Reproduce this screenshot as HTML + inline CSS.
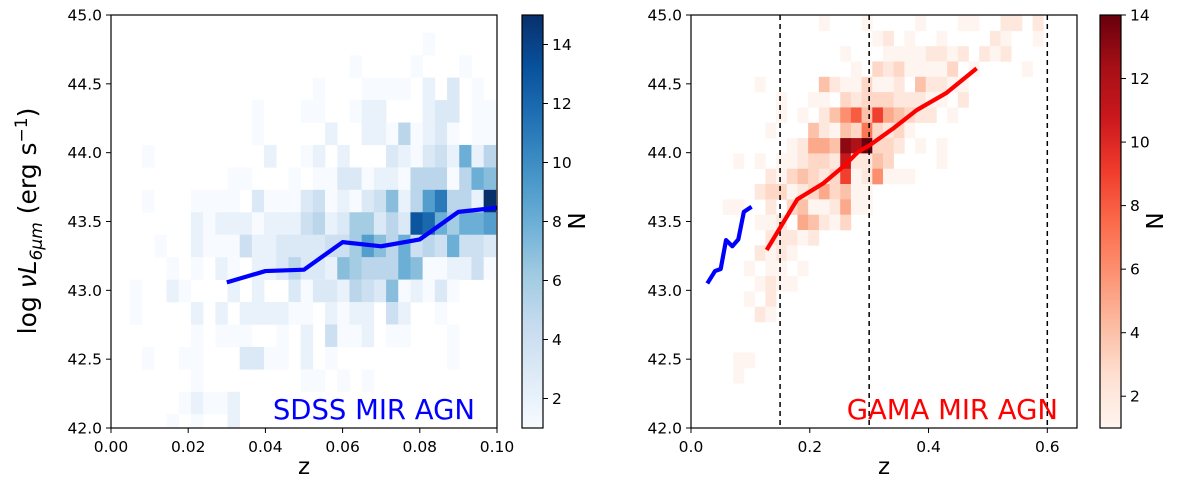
<!DOCTYPE html>
<html><head><meta charset="utf-8"><style>
body{margin:0;background:#fff;font-family:"Liberation Sans","DejaVu Sans",sans-serif}
svg text{font-family:"DejaVu Sans","Liberation Sans",sans-serif}
</style></head><body>
<svg id="fig" width="1200" height="497" xmlns="http://www.w3.org/2000/svg"></svg>
<script>
// ---------- data ----------
const sdssRowStart = -3;
const sdssRows = [
 [[24,1]],
 [[18,1],[23,1],[27,1]],
 [[15,1],[19,1],[20,1],[21,1],[22,1],[24,2],[26,3],[28,1]],
 [[10,1],[14,1],[15,1],[18,1],[19,2],[20,2],[24,2],[25,3],[26,3],[28,1],[29,1],[30,1]],
 [[10,1],[16,2],[19,2],[20,2],[21,1],[22,5],[23,1],[24,2],[25,3],[26,1],[28,1],[29,1],[30,1]],
 [[1,1],[11,2],[14,1],[15,2],[17,2],[21,3],[22,2],[23,1],[24,3],[25,4],[26,2],[27,8],[28,2],[29,5]],
 [[8,1],[9,1],[13,1],[15,1],[16,1],[17,3],[18,3],[19,1],[20,2],[21,2],[22,1],[23,5],[24,5],[25,5],[26,1],[27,5],[28,8],[29,7]],
 [[1,1],[5,1],[6,1],[7,1],[8,1],[10,3],[11,1],[12,1],[13,1],[14,3],[15,4],[16,1],[17,2],[18,1],[19,3],[20,4],[21,7],[22,2],[23,5],[24,9],[25,11],[26,5],[27,5],[28,2],[29,15]],
 [[5,2],[6,1],[7,2],[8,2],[9,2],[10,1],[11,2],[12,2],[13,2],[14,4],[15,5],[16,2],[17,3],[18,6],[19,6],[20,3],[21,5],[22,3],[23,13],[24,12],[25,8],[26,6],[27,8],[28,8],[29,9]],
 [[2,1],[5,2],[6,1],[7,1],[8,1],[9,4],[10,2],[11,2],[12,3],[13,3],[14,3],[15,3],[16,4],[17,4],[18,6],[19,9],[20,7],[21,5],[22,8],[23,4],[24,5],[25,4],[26,8],[27,4],[28,4],[29,3]],
 [[3,1],[5,1],[7,2],[8,1],[10,2],[11,2],[12,3],[13,5],[14,3],[15,3],[16,2],[17,7],[18,6],[19,5],[20,5],[21,5],[22,8],[23,7],[24,1],[25,1],[26,2],[27,2],[28,4],[29,1]],
 [[0,1],[3,2],[4,1],[8,2],[10,2],[13,3],[14,1],[15,3],[16,3],[17,2],[18,5],[19,4],[20,3],[21,7],[22,1],[23,2],[24,1],[25,3],[26,1]],
 [[0,1],[5,2],[7,2],[9,2],[10,2],[11,2],[12,2],[13,1],[14,1],[16,2],[17,1],[18,2],[19,2],[21,4],[22,2],[25,1]],
 [[5,1],[7,1],[8,1],[9,1],[12,1],[14,2],[16,4],[17,1],[18,1],[19,2],[21,1],[22,1],[26,1]],
 [[1,1],[4,1],[5,1],[9,3],[10,3],[11,1],[12,1],[14,2],[16,1],[26,1]],
 [[5,1],[14,1],[15,1],[17,1],[19,1]],
 [[4,1],[5,2],[6,1],[7,1],[8,2]],
 [[3,1],[5,1],[8,2]]
];
const gamaRowStart = -8;
const gamaRows = [
 [[8,1],[12,1],[17,1],[21,1],[22,1],[25,2],[26,2],[28,2]],
 [[13,1],[14,2],[16,1],[19,1],[24,2],[25,1],[28,1]],
 [[10,1],[14,1],[15,1],[16,1],[17,1],[18,2],[19,2],[20,1],[21,2],[23,2],[24,1],[25,2]],
 [[11,1],[13,3],[14,2],[15,3],[16,1],[17,1],[18,1],[19,1],[20,3],[22,1],[27,1]],
 [[2,1],[8,4],[9,2],[10,1],[11,1],[12,3],[13,1],[14,1],[15,2],[17,4],[18,2],[19,2],[20,1],[21,1]],
 [[4,1],[7,1],[8,1],[10,3],[11,2],[12,3],[13,3],[14,3],[15,2],[16,2],[17,2],[18,1],[19,1],[21,2]],
 [[4,1],[6,1],[8,2],[9,4],[10,6],[11,8],[12,4],[13,9],[14,5],[15,4],[16,3],[17,2],[18,2],[20,1]],
 [[3,1],[7,4],[8,2],[9,1],[10,4],[11,3],[12,7],[13,3],[14,2],[15,3],[16,1]],
 [[5,1],[6,2],[7,5],[8,5],[9,4],[10,13],[11,12],[12,14],[13,3],[14,3],[15,2],[17,1],[19,1]],
 [[0,1],[2,1],[4,1],[5,1],[6,2],[7,3],[8,3],[9,2],[10,11],[11,2],[12,2],[13,4],[14,3],[19,1]],
 [[3,2],[4,1],[5,3],[6,4],[7,3],[8,2],[9,3],[10,9],[11,1],[12,2],[13,6],[14,1],[15,1],[16,1]],
 [[2,2],[3,3],[4,3],[5,1],[6,2],[7,3],[8,5],[9,3],[10,4],[11,1],[12,1]],
 [[-1,1],[0,1],[3,2],[5,3],[6,4],[7,1],[8,1],[9,2],[10,5],[11,1],[12,1]],
 [[2,1],[3,1],[4,2],[6,5],[7,4],[8,2],[9,1],[10,3]],
 [[3,2],[4,2],[5,2],[6,1],[7,2]],
 [[2,2],[3,1],[4,2],[5,1]],
 [[1,1],[3,1],[4,1],[6,1]],
 [[2,1],[3,2],[4,1],[5,1]],
 [[1,1],[3,2]],
 [[2,2],[3,1]],
 [],[],
 [[0,1],[1,1]],
 [[0,1]]
];
const sdssLineZ = [0.03,0.04,0.05,0.06,0.07,0.08,0.09,0.10];
const sdssLineL = [43.058,43.14,43.15,43.35,43.32,43.37,43.57,43.60];
const sdssFineZ = [0.0275,0.0376,0.0404,0.05,0.059,0.0696,0.0797,0.089,0.102];
const sdssFineL = [43.05,43.12,43.14,43.155,43.365,43.32,43.37,43.57,43.607];
const gamaLineZ = [0.1274,0.179,0.2227,0.2593,0.2817,0.3013,0.3406,0.38,0.4305,0.481];
const gamaLineL = [43.293,43.661,43.777,43.91,44.007,44.055,44.176,44.309,44.435,44.612];
const gamaVLines = [0.15,0.3,0.6];
const yTicks = [42.0,42.5,43.0,43.5,44.0,44.5,45.0];
const leftXTicks = [0.00,0.02,0.04,0.06,0.08,0.10];
const rightXTicks = [0.0,0.2,0.4,0.6];
const cbLeftTicks = [2,4,6,8,10,12,14];
const cbRightTicks = [2,4,6,8,10,12,14];

// ---------- helpers ----------
const NS="http://www.w3.org/2000/svg";
const svg=document.getElementById('fig');
function mk(tag,attrs,parent){const e=document.createElementNS(NS,tag);for(const k in attrs)e.setAttribute(k,attrs[k]);(parent||svg).appendChild(e);return e;}
const BLUES=["#f7fbff","#deebf7","#c6dbef","#9ecae1","#6baed6","#4292c6","#2171b5","#08519c","#08306b"];
const REDS=["#fff5f0","#fee0d2","#fcbba1","#fc9272","#fb6a4a","#ef3b2c","#cb181d","#a50f15","#67000d"];
function hex(c){return [1,3,5].map(i=>parseInt(c.substr(i,2),16));}
function cmap(list,t){t=Math.max(0,Math.min(1,t));const p=t*(list.length-1);const i=Math.min(Math.floor(p),list.length-2);const f=p-i;const a=hex(list[i]),b=hex(list[i+1]);return `rgb(${a.map((v,k)=>Math.round(v+(b[k]-v)*f)).join(',')})`;}
const Y0=15,Y1=428;
const yS=L=>Y1-(L-42)/3*(Y1-Y0);
const LX0=111,LX1=497, RX0=691,RX1=1077;
const xL=z=>LX0+z/0.1*(LX1-LX0);
const xR=z=>RX0+z/0.65*(RX1-RX0);

function axes(x0,x1,xTicks,xs,fmt,name){
  const g=mk('g',{});  
  yTicks.forEach(v=>{const y=yS(v);mk('line',{x1:x0-5,x2:x0,y1:y,y2:y,stroke:'#000','stroke-width':1},g);
    const t=mk('text',{x:x0-9,y:y+5.5,'text-anchor':'end','font-size':15.5},g);t.textContent=v.toFixed(1);
    });
  xTicks.forEach(v=>{const x=xs(v);mk('line',{x1:x,x2:x,y1:Y1,y2:Y1+5,stroke:'#000','stroke-width':1},g);
    const t=mk('text',{x:x,y:Y1+24,'text-anchor':'middle','font-size':15.5},g);t.textContent=v.toFixed(fmt);
    });
  const r=mk('rect',{x:x0,y:Y0,width:x1-x0,height:Y1-Y0,fill:'none',stroke:'#000','stroke-width':1.2},g);
  
  const xl=mk('text',{x:(x0+x1)/2,y:474,'text-anchor':'middle','font-size':23},g);xl.textContent='z';
  
}

const defs=mk('defs',{});
const c1=mk('clipPath',{id:'cl'},defs);mk('rect',{x:LX0,y:Y0,width:LX1-LX0,height:Y1-Y0},c1);
const c2=mk('clipPath',{id:'cr'},defs);mk('rect',{x:RX0,y:Y0,width:RX1-RX0,height:Y1-Y0},c2);

const gl=mk('g',{'clip-path':'url(#cl)'});

const sZ0=0.0049,sdZ=0.00316,sLtop=44.382,sdL=0.163;
sdssRows.forEach((row,ri)=>{const k=ri+sdssRowStart;row.forEach(([c,n])=>{
  const xa=xL(sZ0+sdZ*c),xb=xL(sZ0+sdZ*(c+1)),ya=yS(sLtop-sdL*k),yb=yS(sLtop-sdL*(k+1));
  const r=mk('rect',{x:xa,y:ya,width:xb-xa+0.3,height:yb-ya+0.3,fill:cmap(BLUES,(n-1)/14)},gl);
  });});
const gr=mk('g',{'clip-path':'url(#cr)'});

const gZ0=0.0713,gdZ=0.018,gLtop=44.106,gdL=0.1113;
gamaRows.forEach((row,ri)=>{const k=ri+gamaRowStart;row.forEach(([c,n])=>{
  const xa=xR(gZ0+gdZ*c),xb=xR(gZ0+gdZ*(c+1)),ya=yS(gLtop-gdL*k),yb=yS(gLtop-gdL*(k+1));
  const r=mk('rect',{x:xa,y:ya,width:xb-xa+0.3,height:yb-ya+0.3,fill:cmap(REDS,(n-1)/13)},gr);
  });});

gamaVLines.forEach(v=>{const l=mk('line',{x1:xR(v),x2:xR(v),y1:Y0,y2:Y1,stroke:'#000','stroke-width':1.5,'stroke-dasharray':'5,4'});
  });

function poly(zs,Ls,xs,color,clip,name){const p=mk('polyline',{points:zs.map((z,i)=>xs(z)+','+yS(Ls[i])).join(' '),fill:'none',stroke:color,'stroke-width':4.2,'stroke-linejoin':'round','clip-path':clip});
  }
poly(sdssLineZ,sdssLineL,xL,'#0000ff','url(#cl)','sdss-median-line');
poly(sdssFineZ,sdssFineL,xR,'#0000ff','url(#cr)','sdss-median-line-right');
poly(gamaLineZ,gamaLineL,xR,'#ff0000','url(#cr)','gama-median-line');

axes(LX0,LX1,leftXTicks,xL,2,'left-axes');
axes(RX0,RX1,rightXTicks,xR,1,'right-axes');

let t=mk('text',{x:475,y:419,'text-anchor':'end','font-size':27.5,fill:'#0000ff'});t.textContent='SDSS MIR AGN';

t=mk('text',{x:1058,y:419,'text-anchor':'end','font-size':27.5,fill:'#ff0000'});t.textContent='GAMA MIR AGN';

t=mk('text',{transform:'translate(36,221) rotate(-90)','text-anchor':'middle','font-size':25});
t.innerHTML='log <tspan font-style="italic">νL</tspan><tspan font-style="italic" font-size="17" dy="6">6μm</tspan><tspan dy="-6"> (erg s</tspan><tspan font-size="17" dy="-9">−1</tspan><tspan dy="9">)</tspan>';


function colorbar(x0,vmax,list,ticks,name,idg){
  const g=mk('g',{});
  const gr=mk('linearGradient',{id:idg,x1:0,y1:1,x2:0,y2:0},defs);
  list.forEach((c,i)=>mk('stop',{offset:i/(list.length-1),'stop-color':c},gr));
  const w=21;
  mk('rect',{x:x0,y:Y0,width:w,height:Y1-Y0,fill:`url(#${idg})`,stroke:'#000','stroke-width':1.2},g);
  const cy=v=>Y1-(v-1)/(vmax-1)*(Y1-Y0);
  ticks.forEach(v=>{const y=cy(v);mk('line',{x1:x0+w,x2:x0+w+5,y1:y,y2:y,stroke:'#000'},g);
    const tt=mk('text',{x:x0+w+9,y:y+5.5,'font-size':15.5},g);tt.textContent=v;
    });
  const n=mk('text',{transform:`translate(${x0+w+42},221) rotate(-90)`,'text-anchor':'middle','font-size':23},g);n.textContent='N';
  
}
colorbar(522,15,BLUES,cbLeftTicks,'blues-colorbar','gb');
colorbar(1100,14,REDS,cbRightTicks,'reds-colorbar','grd');
</script>
</body></html>
